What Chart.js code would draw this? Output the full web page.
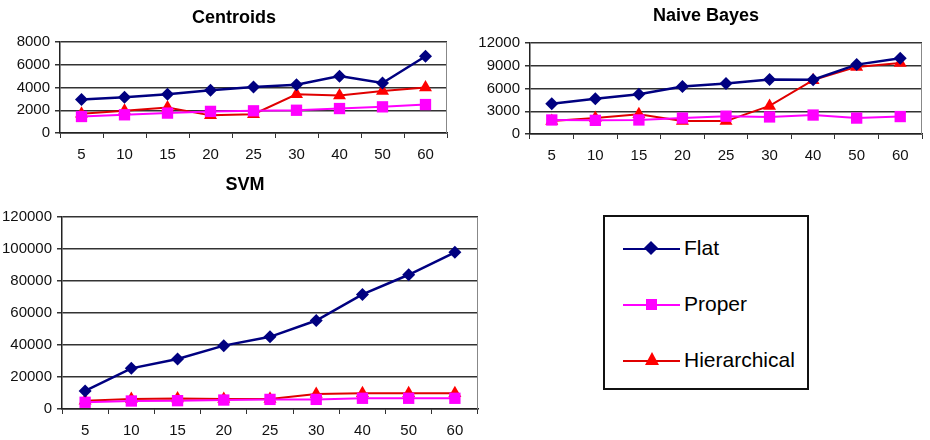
<!DOCTYPE html>
<html>
<head>
<meta charset="utf-8">
<script src="https://cdn.jsdelivr.net/npm/chart.js@4/dist/chart.umd.min.js"></script>
<style>
  html, body { margin: 0; padding: 0; background: #fff; }
  body { width: 930px; height: 440px; position: relative; overflow: hidden; font-family: 'Liberation Sans', Arial, sans-serif; }
  .box { position: absolute; }
  .ttl { position: absolute; font-weight: bold; font-size: 18px; color: #000; transform: translate(-50%, -50%); white-space: nowrap; }
  #legend { position: absolute; left: 603px; top: 215px; width: 202px; height: 171px; border: 2px solid #111; }
  .item { position: absolute; left: 18px; height: 24px; font-size: 21px; color: #000; }
  .item .ln { position: absolute; left: 0; top: 11px; width: 57px; height: 2px; }
  .item .mk { position: absolute; }
  .item span { position: absolute; left: 61px; top: -1px; line-height: 24px; }
</style>
</head>
<body>

<div class="box" style="left:0;top:0;width:460px;height:170px"><canvas id="cCent"></canvas></div>
<div class="box" style="left:468px;top:0;width:462px;height:170px"><canvas id="cNb"></canvas></div>
<div class="box" style="left:0;top:170px;width:500px;height:270px"><canvas id="cSvm"></canvas></div>

<div class="ttl" style="left:234px;top:17px">Centroids</div>
<div class="ttl" style="left:706px;top:15px">Naive Bayes</div>
<div class="ttl" style="left:245px;top:184px">SVM</div>

<div id="legend">
  <div class="item" style="top:20px">
    <div class="ln" style="background:#000080"></div>
    <div class="mk" style="left:23px;top:6px;width:10px;height:10px;background:#000080;transform:rotate(45deg)"></div>
    <span>Flat</span>
  </div>
  <div class="item" style="top:76px">
    <div class="ln" style="background:#ff00ff"></div>
    <div class="mk" style="left:23px;top:6px;width:11px;height:11px;background:#ff00ff"></div>
    <span>Proper</span>
  </div>
  <div class="item" style="top:132px">
    <div class="ln" style="background:#e00000"></div>
    <div class="mk" style="left:22px;top:3px;width:0;height:0;border-left:7px solid transparent;border-right:7px solid transparent;border-bottom:13px solid #ff0000"></div>
    <span>Hierarchical</span>
  </div>
</div>

<script>
// ── Données ──────────────────────────────────────────────────────────────────
const CATS = ['5', '10', '15', '20', '25', '30', '40', '50', '60'];

const CENT_FLAT   = [2950, 3150, 3400, 3750, 4050, 4250, 5000, 4400, 6750];
const CENT_PROPER = [1450, 1600, 1750, 1900, 1950, 2000, 2150, 2300, 2500];
const CENT_HIER   = [1700, 1950, 2250, 1550, 1650, 3400, 3300, 3700, 4000];

const NB_FLAT   = [4000, 4650, 5250, 6250, 6650, 7200, 7150, 9150, 10000];
const NB_PROPER = [1850, 1800, 1850, 2100, 2350, 2250, 2500, 2100, 2300];
const NB_HIER   = [1700, 2100, 2600, 1700, 1700, 3700, 7100, 8850, 9350];

const SVM_FLAT   = [11300, 25400, 31300, 39600, 45100, 55300, 71600, 83900, 97900];
const SVM_PROPER = [4200, 5000, 5200, 5600, 6000, 6000, 6700, 6700, 6700];
const SVM_HIER   = [5200, 6200, 6600, 6200, 6200, 9400, 9800, 9800, 9800];

// ── Styles ───────────────────────────────────────────────────────────────────
const NAVY = '#000080', MAGENTA = '#ff00ff', RED = '#ff0000';
const FONT = "'Liberation Sans', Arial, sans-serif";

Chart.defaults.font.family = FONT;
Chart.defaults.color = '#000';
Chart.defaults.animation = false;

// cadre droit gris de la zone de tracé
const frame = {
    id: 'frame',
    afterDraw(chart) {
        const a = chart.chartArea, ctx = chart.ctx;
        ctx.save();
        ctx.strokeStyle = '#888';
        ctx.lineWidth = 1;
        ctx.beginPath();
        ctx.moveTo(a.right - 0.5, a.top);
        ctx.lineTo(a.right - 0.5, a.bottom);
        ctx.stroke();
        ctx.restore();
    }
};

function ds(label, data, color, style, radius, width, lineColor) {
    return {
        label, data,
        borderColor: lineColor || color,
        backgroundColor: color,
        pointStyle: style,
        pointRadius: radius,
        pointBorderWidth: 0,
        pointBackgroundColor: color,
        borderWidth: width,
        tension: 0,
    };
}

function makeChart(id, flat, proper, hier, yMax, yStep, g) {
    new Chart(document.getElementById(id), {
        type: 'line',
        data: {
            labels: CATS,
            datasets: [
                ds('Flat', flat, NAVY, 'rectRot', 6.5, 2.5),
                ds('Proper', proper, MAGENTA, 'rect', 8, 2),
                ds('Hierarchical', hier, RED, 'triangle', 7.5, 2, '#e00000'),
            ],
        },
        options: {
            responsive: true,
            maintainAspectRatio: false,
            layout: { padding: { top: g.top, right: g.right, left: 0, bottom: 0 } },
            plugins: { legend: { display: false }, tooltip: { enabled: false } },
            scales: {
                x: {
                    offset: true,
                    grid: { display: true, drawOnChartArea: false, offset: true, tickLength: 5, color: '#333' },
                    border: { color: '#222', width: 1.5 },
                    ticks: { font: { size: 15 }, padding: 8, maxRotation: 0, color: '#111' },
                    afterFit: s => { s.height = g.xh; },
                },
                y: {
                    min: 0, max: yMax,
                    grid: { color: '#333', lineWidth: 1.5, tickLength: 5 },
                    border: { color: '#222', width: 1.5 },
                    ticks: { stepSize: yStep, font: { size: 15 }, padding: 5, color: '#111', callback: v => String(v) },
                    afterFit: s => { s.width = g.yw; },
                },
            },
        },
        plugins: [frame],
    });
}

makeChart('cCent', CENT_FLAT, CENT_PROPER, CENT_HIER, 8000, 2000,  { top: 42, right: 13, yw: 60, xh: 37 });
makeChart('cNb',   NB_FLAT,   NB_PROPER,   NB_HIER,   12000, 3000, { top: 43, right: 2,  yw: 62, xh: 36 });
makeChart('cSvm',  SVM_FLAT,  SVM_PROPER,  SVM_HIER,  120000, 20000, { top: 47, right: 22, yw: 62, xh: 31 });
</script>
</body>
</html>
